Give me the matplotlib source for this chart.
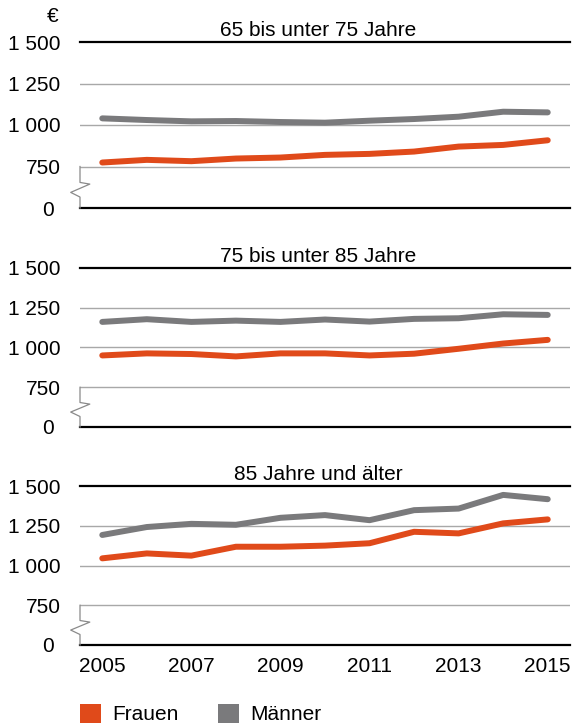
import matplotlib
matplotlib.use('Agg')
import matplotlib.pyplot as plt
import matplotlib.transforms as mtransforms
from matplotlib.patches import Patch

plt.rcParams['font.family'] = ['Liberation Sans', 'DejaVu Sans']

years = list(range(2005, 2016))

titles = ['65 bis unter 75 Jahre', '75 bis unter 85 Jahre', '85 Jahre und älter']

frauen_65 = [774, 790, 782, 798, 804, 820, 826, 840, 870, 880, 908]
maenner_65 = [1040, 1030, 1022, 1024, 1018, 1014, 1026, 1036, 1050, 1080, 1076]

frauen_75 = [950, 963, 959, 944, 963, 963, 950, 961, 992, 1025, 1048]
maenner_75 = [1161, 1178, 1161, 1169, 1161, 1176, 1163, 1180, 1184, 1209, 1205]

frauen_85 = [1045, 1076, 1062, 1118, 1118, 1125, 1140, 1212, 1202, 1265, 1290]
maenner_85 = [1192, 1242, 1262, 1256, 1300, 1317, 1285, 1348, 1358, 1444, 1417]

# 0 sits on the compressed part of the axis below 750
y_ticks = [500, 750, 1000, 1250, 1500]
y_labels = ['0', '750', '1 000', '1 250', '1 500']
x_ticks = [2005, 2007, 2009, 2011, 2013, 2015]

ORANGE = '#e04a1a'
GREY = '#7a7a7c'
GRID = '#a8a8a8'
FS = 15

fig = plt.figure(figsize=(5.74, 7.26), dpi=100)

W = 574
H = 726
left = 80 / W
width = 490 / W
panels = [(42, 208), (268, 427), (486, 645)]
series = [(frauen_65, maenner_65), (frauen_75, maenner_75), (frauen_85, maenner_85)]

for i, ((top, bottom), (fr, ma), title) in enumerate(zip(panels, series, titles)):
    ax = fig.add_axes([left, 1 - bottom / H, width, (bottom - top) / H])
    ax.set_xlim(2004.5, 2015.5)
    ax.set_ylim(500, 1500)
    for s in ax.spines.values():
        s.set_visible(False)

    for v in y_ticks:
        if v in (500, 1500):
            ax.axhline(v, color='black', lw=1.6, zorder=1, clip_on=False)
        else:
            ax.axhline(v, color=GRID, lw=1.0, zorder=1)

    # axis break marker between 0 and 750
    trans = mtransforms.blended_transform_factory(ax.transAxes, ax.transData)
    bx = [0, 0, 0.02, -0.019, 0, 0]
    by = [750, 654, 644, 594, 566, 500]
    ax.plot(bx, by, color='#8a8a8a', lw=0.9, transform=trans, clip_on=False, zorder=2)

    ax.plot(years, ma, color=GREY, lw=4.3, solid_capstyle='round', solid_joinstyle='round', zorder=3)
    ax.plot(years, fr, color=ORANGE, lw=4.3, solid_capstyle='round', solid_joinstyle='round', zorder=3)

    ax.set_yticks(y_ticks)
    ax.set_yticklabels(y_labels, fontsize=FS)
    ax.tick_params(axis='y', length=0, pad=14)
    zero_lbl = ax.get_yticklabels()[0]
    zero_lbl.set_transform(zero_lbl.get_transform()
                           + mtransforms.ScaledTranslation(-7 / 100, 0, fig.dpi_scale_trans))

    ax.set_xticks(x_ticks)
    if i == 2:
        ax.set_xticklabels([str(x) for x in x_ticks], fontsize=FS)
        ax.tick_params(axis='x', length=0, pad=9)
    else:
        ax.tick_params(axis='x', length=0, labelbottom=False)

    ax.set_title(title, x=0.486, pad=4, fontsize=FS)

fig.text(53 / W, 1 - 17 / H, '€', ha='center', va='center', fontsize=FS)

handles = [Patch(facecolor=ORANGE, edgecolor='none', label='Frauen'),
           Patch(facecolor=GREY, edgecolor='none', label='Männer')]
fig.legend(handles=handles, loc='upper left', bbox_to_anchor=(left, 1 - 704 / H),
           ncol=2, frameon=False, fontsize=FS, handlelength=1.0, handleheight=1.0,
           handletextpad=0.55, columnspacing=1.9, borderpad=0, borderaxespad=0)

fig.savefig('out.png', dpi=100)
